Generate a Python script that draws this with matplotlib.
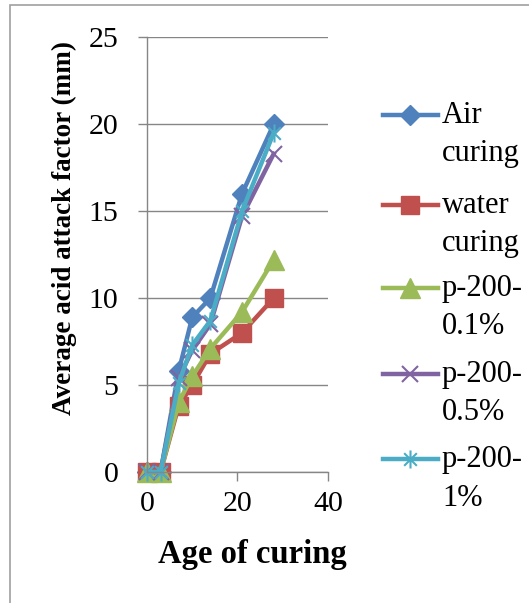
import matplotlib
matplotlib.use("Agg")
import matplotlib.pyplot as plt
from matplotlib.path import Path
from matplotlib.lines import Line2D
from matplotlib.patches import Rectangle

plt.rcParams['font.family'] = ['Liberation Serif', 'DejaVu Serif']

days = [0, 3, 7, 10, 14, 21, 28]
air = [0, 0, 5.8, 8.9, 10.0, 16.0, 20.0]
water = [0, 0, 3.8, 5.0, 6.8, 8.0, 10.0]
p200_01 = [0, 0, 4.0, 5.5, 7.1, 9.2, 12.2]
p200_05 = [0, 0, 5.4, 7.0, 8.5, 14.7, 18.3]
p200_1 = [0, 0, 5.1, 7.3, 8.7, 15.0, 19.5]

labels = ["Air\ncuring", "water\ncuring", "p-200-\n0.1%", "p-200-\n0.5%", "p-200-\n1%"]

# excel style star: x plus vertical bar
star = Path([(0, -1), (0, 1), (-0.7, -0.7), (0.7, 0.7), (-0.7, 0.7), (0.7, -0.7)],
            [Path.MOVETO, Path.LINETO, Path.MOVETO, Path.LINETO, Path.MOVETO, Path.LINETO])

series = [
    (air, '#4F81BD', 'D', 10, 1),
    (water, '#C0504D', 's', 13.5, 1),
    (p200_01, '#9BBB59', '^', 14, 1),
    (p200_05, '#8064A2', 'x', 12, 1.5),
    (p200_1, '#4BACC6', star, 13, 1.5),
]

W, H = 529, 603
fig = plt.figure(figsize=(W / 100, H / 100), dpi=100)
ax = fig.add_axes([147 / W, 1 - 472 / H, (328 - 147) / W, (472 - 37.3) / H])

for vals, c, m, ms, mew in series:
    ax.plot(days, vals, color=c, lw=3.2, marker=m, ms=ms, mew=mew, clip_on=False)

ax.set_xlim(0, 40)
ax.set_ylim(0, 25)
ax.set_xticks([0, 20, 40])
ax.set_yticks([0, 5, 10, 15, 20, 25])
ax.yaxis.grid(True, color='#868686', lw=1)
ax.set_axisbelow(True)
for s in ('top', 'right'):
    ax.spines[s].set_visible(False)
for s in ('left', 'bottom'):
    ax.spines[s].set_color('#868686')
    ax.spines[s].set_linewidth(1)
ax.tick_params(axis='both', direction='out', color='#868686', width=1, length=6.5,
               labelsize=21.5)
ax.tick_params(axis='y', pad=14)
ax.tick_params(axis='x', pad=7)

fig.text(64 / W, 1 - 228 / H, "Average acid attack factor (mm)", rotation=90,
         ha='center', va='center', fontsize=19.5, fontweight='bold')
fig.text(252 / W, 1 - 563 / H, "Age of curing", ha='center', va='baseline',
         fontsize=23.5, fontweight='bold')

# legend drawn manually so the handle lines up with the first text line
leg_y = [115, 205, 288, 374, 459]
for (vals, c, m, ms, mew), lab, yp in zip(series, labels, leg_y):
    y = 1 - yp / H
    fig.add_artist(Line2D([383 / W, 438 / W], [y, y], color=c, lw=3.2))
    fig.add_artist(Line2D([410 / W], [y], color=c, marker=m, ms=ms, mew=mew))
    # baseline alignment of multi-line text uses the last line
    fig.text(442 / W, 1 - (yp + 11.5 + 35) / H, lab, ha='left', va='baseline', fontsize=22,
             linespacing=1.45)

fig.add_artist(Rectangle((9.5 / W, -0.1), 1.2, 1 - 5 / H + 0.1, transform=fig.transFigure,
                         fill=False, edgecolor='#A0A0A0', lw=1.2))

fig.savefig("out.png", dpi=100)
